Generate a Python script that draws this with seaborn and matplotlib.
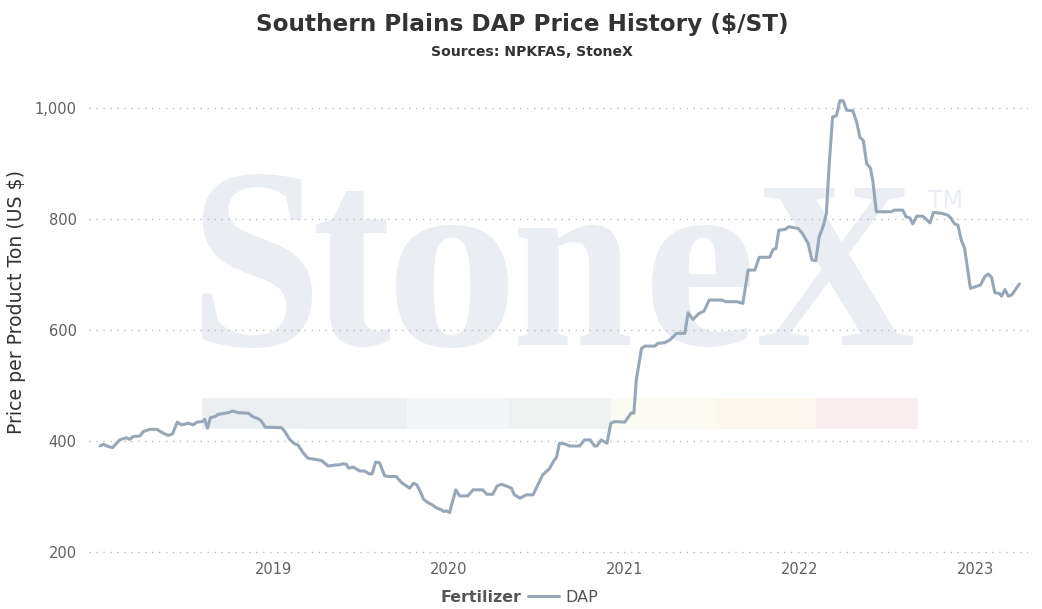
import pandas as pd
import matplotlib
matplotlib.use("Agg")
import matplotlib.pyplot as plt
import matplotlib.dates as mdates
import seaborn as sns
from matplotlib.patches import PathPatch, Rectangle
from matplotlib.textpath import TextPath
from matplotlib.font_manager import FontProperties
from matplotlib.transforms import Affine2D
from matplotlib.ticker import FuncFormatter
from matplotlib.lines import Line2D

dates = [
    "2018-01-04", "2018-01-11", "2018-01-21", "2018-01-30", "2018-02-14", "2018-02-28",
    "2018-03-07", "2018-03-14", "2018-03-28", "2018-04-04", "2018-04-18", "2018-05-02",
    "2018-05-16", "2018-05-26", "2018-06-04", "2018-06-14", "2018-06-23", "2018-07-07",
    "2018-07-17", "2018-07-25", "2018-08-05", "2018-08-10", "2018-08-16", "2018-08-22",
    "2018-08-31", "2018-09-07", "2018-09-21", "2018-09-28", "2018-10-07", "2018-10-19",
    "2018-11-09", "2018-11-18", "2018-11-30", "2018-12-07", "2018-12-14", "2019-01-17",
    "2019-01-24", "2019-02-03", "2019-02-13", "2019-02-20", "2019-03-03", "2019-03-13",
    "2019-03-27", "2019-04-10", "2019-04-24", "2019-05-04", "2019-05-11", "2019-05-18",
    "2019-05-25", "2019-06-01", "2019-06-06", "2019-06-15", "2019-06-29", "2019-07-09",
    "2019-07-18", "2019-07-25", "2019-08-01", "2019-08-09", "2019-08-20", "2019-08-30",
    "2019-09-13", "2019-09-24", "2019-10-04", "2019-10-11", "2019-10-19", "2019-10-26",
    "2019-11-02", "2019-11-09", "2019-11-18", "2019-11-25", "2019-12-07", "2019-12-16",
    "2019-12-21", "2019-12-27", "2020-01-02", "2020-01-15", "2020-01-23", "2020-02-09",
    "2020-02-20", "2020-03-11", "2020-03-20", "2020-04-01", "2020-04-10", "2020-04-19",
    "2020-04-29", "2020-05-10", "2020-05-16", "2020-05-28", "2020-06-10", "2020-06-24",
    "2020-07-04", "2020-07-14", "2020-07-28", "2020-08-06", "2020-08-12", "2020-08-18",
    "2020-08-28", "2020-09-08", "2020-09-29", "2020-10-09", "2020-10-21", "2020-10-30",
    "2020-11-04", "2020-11-13", "2020-11-25", "2020-12-03", "2020-12-11", "2021-01-01",
    "2021-01-15", "2021-01-20", "2021-01-25", "2021-02-05", "2021-02-12", "2021-03-05",
    "2021-03-11", "2021-03-25", "2021-04-05", "2021-04-19", "2021-05-06", "2021-05-13",
    "2021-05-23", "2021-06-05", "2021-06-15", "2021-06-26", "2021-07-22", "2021-07-31",
    "2021-08-23", "2021-09-04", "2021-09-15", "2021-09-29", "2021-10-08", "2021-10-30",
    "2021-11-06", "2021-11-12", "2021-11-18", "2021-11-30", "2021-12-09", "2021-12-28",
    "2022-01-06", "2022-01-18", "2022-01-26", "2022-02-03", "2022-02-10", "2022-02-18",
    "2022-02-25", "2022-03-03", "2022-03-10", "2022-03-18", "2022-03-25", "2022-04-01",
    "2022-04-08", "2022-04-21", "2022-04-29", "2022-05-06", "2022-05-13", "2022-05-20",
    "2022-05-28", "2022-06-02", "2022-06-09", "2022-07-10", "2022-07-17", "2022-08-03",
    "2022-08-10", "2022-08-18", "2022-08-24", "2022-09-01", "2022-09-14", "2022-09-29",
    "2022-10-06", "2022-10-24", "2022-11-05", "2022-11-12", "2022-11-19", "2022-11-26",
    "2022-12-03", "2022-12-10", "2022-12-22", "2023-01-12", "2023-01-21", "2023-01-28",
    "2023-02-04", "2023-02-11", "2023-02-20", "2023-02-25", "2023-03-04", "2023-03-11",
    "2023-03-18", "2023-04-03",
]
prices = [
    391, 394, 390, 388, 402, 406,
    403, 408, 409, 417, 421, 421,
    414, 410, 413, 434, 429, 432,
    429, 434, 435, 439, 423, 442,
    444, 448, 450, 451, 454, 451,
    450, 444, 440, 435, 425, 424,
    417, 403, 395, 393, 379, 369,
    367, 365, 355, 356, 357, 357,
    359, 358, 351, 353, 346, 346,
    341, 341, 362, 361, 337, 336,
    336, 325, 319, 315, 324, 321,
    309, 295, 289, 286, 279, 276,
    273, 274, 271, 312, 301, 301,
    312, 312, 304, 304, 319, 322,
    319, 315, 303, 297, 303, 303,
    321, 339, 350, 364, 371, 396,
    395, 391, 391, 402, 402, 391,
    391, 402, 396, 432, 435, 434,
    451, 450, 510, 567, 571, 571,
    576, 577, 582, 594, 594, 631,
    619, 630, 634, 654, 654, 651,
    651, 648, 708, 708, 731, 731,
    745, 747, 780, 781, 786, 783,
    774, 756, 726, 725, 768, 786,
    810, 900, 984, 986, 1013, 1013,
    996, 995, 975, 947, 941, 900,
    891, 867, 813, 813, 816, 816,
    804, 802, 791, 805, 805, 793,
    812, 810, 807, 801, 791, 789,
    762, 747, 675, 681, 696, 701,
    695, 667, 666, 661, 673, 661,
    663, 683,
]
year_ticks = ["2019", "2020", "2021", "2022", "2023"]
band_colors = ["#eceff2", "#edf0f3", "#f2f6f9", "#eef3f1", "#fbfbf3", "#fcf8ee", "#f8eef0"]

df = pd.DataFrame({"Date": pd.to_datetime(dates), "Price": prices, "Fertilizer": "DAP"})

sns.set_theme(style="white")
plt.rcParams["font.family"] = ["DejaVu Sans"]

W, H = 1042, 609
fig = plt.figure(figsize=(W / 100, H / 100), dpi=100)
ax = fig.add_axes([89 / W, (H - 556) / H, (1028 - 89) / W, (556 - 95) / H])
ax.set_facecolor("none")

line_color = "#98a7b7"
sns.lineplot(data=df, x="Date", y="Price", hue="Fertilizer", palette=[line_color],
             linewidth=2.2, legend=False, ax=ax, zorder=3)

# StoneX watermark, each letter fitted to its box (pixels, top-left origin)
serif = FontProperties(family="Liberation Serif", weight="bold")
wm_color = "#eaeef2"
letters = [("S", 202, 312, 174, 348), ("t", 316, 390, 191, 347), ("o", 396, 508, 225, 348),
           ("n", 518, 630, 225, 345), ("e", 652, 750, 225, 347), ("X", 759, 913, 188, 345)]
for ch, lx0, lx1, ly0, ly1 in letters:
    tp = TextPath((0, 0), ch, size=100, prop=serif)
    ext = tp.get_extents()
    tr = (Affine2D().translate(-ext.x0, -ext.y0)
          .scale((lx1 - lx0) / ext.width / W, (ly1 - ly0) / ext.height / H)
          .translate(lx0 / W, (H - ly1) / H) + fig.transFigure)
    ax.add_artist(PathPatch(tp, transform=tr, facecolor=wm_color, edgecolor="none", zorder=0))
fig.text(928 / W, (H - 208) / H, "TM", fontsize=17, color=wm_color, ha="left", va="baseline")

bx = 202
for c in band_colors:
    ax.add_artist(Rectangle((bx / W, (H - 429) / H), 102.3 / W, 31 / H,
                            transform=fig.transFigure, facecolor=c, edgecolor="none", zorder=0))
    bx += 102.3

ax.set_xlim(pd.Timestamp("2017-12-12"), pd.Timestamp("2023-04-21"))
ax.set_ylim(192.8, 1023.4)
ax.set_yticks([200, 400, 600, 800, 1000])
ax.yaxis.set_major_formatter(FuncFormatter(lambda v, p: f"{int(v):,}"))
ax.set_xticks(pd.to_datetime([y + "-01-01" for y in year_ticks]))
ax.xaxis.set_major_formatter(mdates.DateFormatter("%Y"))
ax.tick_params(axis="both", length=0, labelsize=10.5, labelcolor="#606060")
ax.tick_params(axis="y", pad=9)
ax.tick_params(axis="x", pad=4)
ax.grid(axis="y", linestyle=(0, (1, 4)), color="#bbbbbb", linewidth=1)
ax.grid(axis="x", visible=False)
sns.despine(ax=ax, left=True, bottom=True)
ax.set_xlabel("")
ax.set_ylabel("")

fig.text(17 / W, (H - 302) / H, "Price per Product Ton (US $)", rotation=90,
         ha="center", va="center", fontsize=13.6, color="#333333")
fig.text(522 / W, (H - 25) / H, "Southern Plains DAP Price History ($/ST)",
         ha="center", va="center", fontsize=16.7, fontweight="bold", color="#333333")
fig.text(532 / W, (H - 52) / H, "Sources: NPKFAS, StoneX",
         ha="center", va="center", fontsize=10.1, fontweight="bold", color="#333333")

fig.text(521 / W, (H - 597) / H, "Fertilizer", ha="right", va="center",
         fontsize=11.4, fontweight="bold", color="#555555")
fig.legend(handles=[Line2D([], [], color=line_color, linewidth=2.2)], labels=["DAP"],
           loc="center left", bbox_to_anchor=(528 / W, (H - 597) / H), frameon=False,
           fontsize=11.5, handlelength=1.95, handletextpad=0.4, borderpad=0, borderaxespad=0,
           labelcolor="#555555")

fig.savefig("out.png", dpi=100)
